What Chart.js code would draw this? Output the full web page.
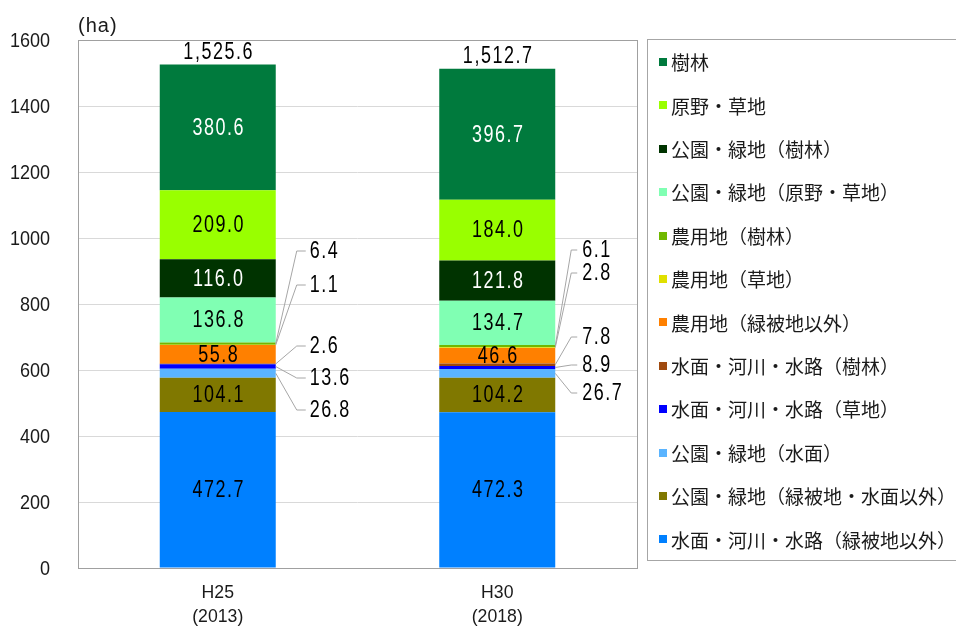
<!DOCTYPE html>
<html lang="ja">
<head>
<meta charset="utf-8">
<title>緑被地等面積の推移</title>
<script src="https://cdn.jsdelivr.net/npm/chart.js@4.4.1/dist/chart.umd.min.js"></script>
<style>
html, body { margin: 0; padding: 0; background: #fff; }
#wrap { width: 956px; height: 626px; }
</style>
</head>
<body>
<div id="wrap"><canvas id="myChart" width="956" height="626"></canvas></div>
<script>
const years = [['H25', '(2013)'], ['H30', '(2018)']];

// stacked from the bottom up
const seriesNames = [
    '水面・河川・水路（緑被地以外）',
    '公園・緑地（緑被地・水面以外）',
    '公園・緑地（水面）',
    '水面・河川・水路（草地）',
    '水面・河川・水路（樹林）',
    '農用地（緑被地以外）',
    '農用地（草地）',
    '農用地（樹林）',
    '公園・緑地（原野・草地）',
    '公園・緑地（樹林）',
    '原野・草地',
    '樹林'
];
const h25 = [472.7, 104.1, 26.8, 13.6, 2.6, 55.8, 1.1, 6.4, 136.8, 116.0, 209.0, 380.6];
const h30 = [472.3, 104.2, 26.7, 8.9, 7.8, 46.6, 2.8, 6.1, 134.7, 121.8, 184.0, 396.7];
const totals = [1525.6, 1512.7];
const yTicks = [0, 200, 400, 600, 800, 1000, 1200, 1400, 1600];

const colors = [
    '#0080ff', '#807800', '#5ab4ff', '#0000ff', '#a04a0f', '#ff8000',
    '#e0e000', '#70b800', '#80ffb3', '#003300', '#99ff00', '#007a3d'
];
const whiteText = [9, 11];

// small segments get a label off to the right with a leader line (canvas y of each label, per bar)
const callouts = {
    7: [251, 250],
    6: [285, 273],
    4: [346, 337],
    3: [378, 365],
    2: [410, 393]
};
const elbowDx = [21, 16];
const endDx = [30, 22];
const textDx = [34, 27];

const FONT = '"Liberation Sans", Arimo, sans-serif';
const JP_FONT = '"Noto Sans CJK JP", "Noto Sans", sans-serif';

// horizontally squeezed text, the numerals here are a narrow face
function narrowText(ctx, txt, x, y, align, k) {
    ctx.save();
    ctx.translate(x, y);
    ctx.scale(k, 1);
    ctx.textAlign = align;
    ctx.fillText(txt, 0, 0);
    ctx.restore();
}

const datasets = seriesNames.map((name, i) => ({
    label: name,
    data: [h25[i], h30[i]],
    backgroundColor: colors[i],
    borderWidth: 0
}));

const segmentLabels = {
    id: 'segmentLabels',
    afterDatasetsDraw(chart) {
        const ctx = chart.ctx;
        ctx.save();
        ctx.font = '23px ' + FONT;
        ctx.letterSpacing = '2px';
        ctx.textBaseline = 'middle';

        chart.data.datasets.forEach((ds, i) => {
            const meta = chart.getDatasetMeta(i);
            meta.data.forEach((bar, j) => {
                const v = ds.data[j];
                const txt = v.toFixed(1);
                const mid = (bar.y + bar.base) / 2;
                const right = bar.x + bar.width / 2;

                if (callouts[i]) {
                    const ly = callouts[i][j];
                    ctx.strokeStyle = '#a6a6a6';
                    ctx.lineWidth = 1;
                    ctx.beginPath();
                    ctx.moveTo(right, mid);
                    ctx.lineTo(right + elbowDx[j], ly);
                    ctx.lineTo(right + endDx[j], ly);
                    ctx.stroke();
                    ctx.fillStyle = '#000';
                    narrowText(ctx, txt, right + textDx[j], ly + 1, 'left', 0.78);
                } else {
                    ctx.fillStyle = whiteText.includes(i) ? '#fff' : '#000';
                    narrowText(ctx, txt, bar.x + 1, mid + 1, 'center', 0.78);
                }
            });
        });

        // totals above each stack
        const topMeta = chart.getDatasetMeta(chart.data.datasets.length - 1);
        topMeta.data.forEach((bar, j) => {
            const txt = totals[j].toLocaleString('en-US', { minimumFractionDigits: 1 });
            ctx.fillStyle = '#000';
            narrowText(ctx, txt, bar.x + 1, bar.y - 12, 'center', 0.78);
        });
        ctx.restore();
    }
};

const frameAndLegend = {
    id: 'frameAndLegend',
    afterDraw(chart) {
        const ctx = chart.ctx;
        const a = chart.chartArea;
        ctx.save();

        ctx.strokeStyle = '#a0a0a0';
        ctx.lineWidth = 1;
        ctx.strokeRect(Math.round(a.left) + 0.5, Math.round(a.top) + 0.5,
            Math.round(a.right - a.left), Math.round(a.bottom - a.top));

        ctx.fillStyle = '#1a1a1a';
        ctx.textBaseline = 'middle';

        // y tick labels
        ctx.font = '20px ' + FONT;
        yTicks.forEach(v => {
            narrowText(ctx, String(v), a.left - 28, chart.scales.y.getPixelForValue(v) + 1, 'right', 0.9);
        });

        // category labels, two lines each
        ctx.font = '19px ' + FONT;
        years.forEach((lines, j) => {
            const x = chart.scales.x.getPixelForValue(j);
            lines.forEach((t, n) => narrowText(ctx, t, x, a.bottom + 25 + n * 24, 'center', 0.93));
        });

        // unit
        ctx.font = '20px ' + FONT;
        ctx.letterSpacing = '1px';
        ctx.textAlign = 'left';
        ctx.fillText('(ha)', a.left, a.top - 14);
        ctx.letterSpacing = '0px';

        // legend box, top series first
        ctx.strokeStyle = '#a6a6a6';
        ctx.strokeRect(647.5, 39.5, 330, 521);
        ctx.font = '19px ' + JP_FONT;
        const n = chart.data.datasets.length;
        for (let k = 0; k < n; k++) {
            const ds = chart.data.datasets[n - 1 - k];
            const y = 62 + k * 43.4;
            ctx.fillStyle = ds.backgroundColor;
            ctx.fillRect(659, Math.round(y) - 4, 8, 8);
            ctx.fillStyle = '#1a1a1a';
            ctx.fillText(ds.label, 671, y + 1);
        }
        ctx.restore();
    }
};

new Chart(document.getElementById('myChart'), {
    type: 'bar',
    data: { labels: years, datasets },
    options: {
        responsive: false,
        devicePixelRatio: 1,
        animation: false,
        layout: { padding: { top: 40, right: 319, bottom: 0, left: 0 } },
        plugins: {
            legend: { display: false },
            tooltip: { enabled: false }
        },
        datasets: {
            bar: { categoryPercentage: 1, barPercentage: 0.415 }
        },
        scales: {
            x: {
                stacked: true,
                grid: { display: false, drawTicks: false },
                border: { display: false },
                afterFit: s => { s.height = 58; },
                ticks: { display: false }
            },
            y: {
                stacked: true,
                min: 0,
                max: 1600,
                afterFit: s => { s.width = 78; },
                afterBuildTicks: s => { s.ticks = yTicks.map(v => ({ value: v })); },
                grid: { color: '#d9d9d9', drawTicks: false },
                border: { display: false },
                ticks: { display: false }
            }
        }
    },
    plugins: [segmentLabels, frameAndLegend]
});
</script>
</body>
</html>
